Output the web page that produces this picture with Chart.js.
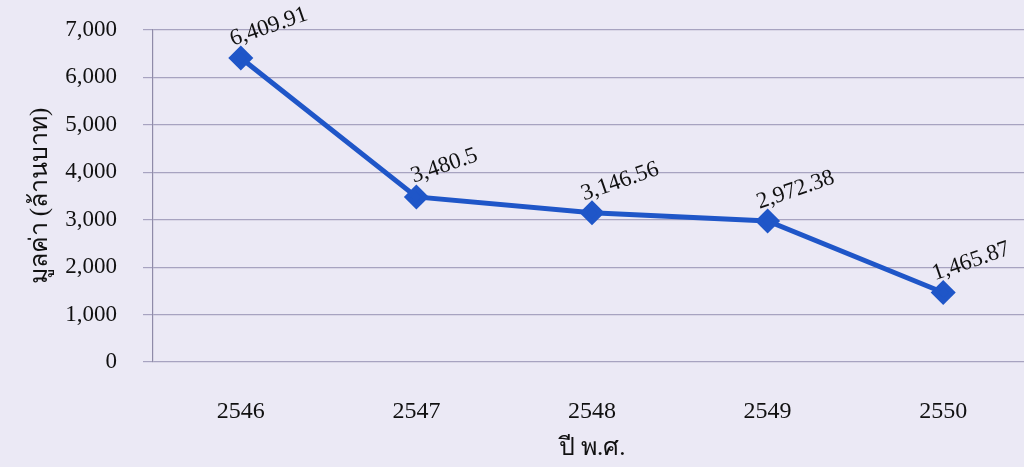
<!DOCTYPE html>
<html>
<head>
<meta charset="utf-8">
<script src="https://cdn.jsdelivr.net/npm/chart.js@4"></script>
<style>
  html, body { margin: 0; padding: 0; background: #ebe9f5; overflow: hidden; }
  #wrap { position: relative; width: 1045px; height: 467px; }
</style>
</head>
<body>
<div id="wrap"><canvas id="myChart"></canvas></div>
<script>
const years = ["2546", "2547", "2548", "2549", "2550"];
const values = [6409.91, 3480.5, 3146.56, 2972.38, 1465.87];
const yTicks = [0, 1000, 2000, 3000, 4000, 5000, 6000, 7000];

const serif = "'Liberation Serif', 'Times New Roman', serif";
const fmt = (v) => v.toLocaleString("en-US");

// etiquetas dos valores, levemente inclinadas como no original
const valueLabels = {
  id: "valueLabels",
  afterDatasetsDraw(chart) {
    const { ctx } = chart;
    const meta = chart.getDatasetMeta(0);
    ctx.save();
    ctx.font = "23px " + serif;
    ctx.fillStyle = "#111";
    ctx.textAlign = "center";
    ctx.textBaseline = "middle";
    meta.data.forEach((pt, i) => {
      ctx.save();
      ctx.translate(pt.x + 28, pt.y - 31);
      ctx.rotate(-19 * Math.PI / 180);
      ctx.fillText(fmt(values[i]), 0, 0);
      ctx.restore();
    });
    ctx.restore();
  },
};

const ctx = document.getElementById("myChart").getContext("2d");
new Chart(ctx, {
  type: "line",
  data: {
    labels: years,
    datasets: [
      {
        data: values,
        borderColor: "#1f56c8",
        backgroundColor: "#1f56c8",
        borderWidth: 5,
        pointStyle: "rectRot",
        pointRadius: 9,
        pointHoverRadius: 9,
        tension: 0,
      },
    ],
  },
  options: {
    responsive: true,
    maintainAspectRatio: false,
    animation: false,
    layout: { padding: { top: 30, left: 0, right: 0, bottom: 0 } },
    plugins: { legend: { display: false }, tooltip: { enabled: false } },
    scales: {
      x: {
        offset: true,
        grid: { display: false, drawTicks: false },
        border: { display: false },
        ticks: { color: "#111", font: { family: serif, size: 24 }, padding: 35 },
        title: {
          display: true,
          text: "ปี พ.ศ.",
          color: "#111",
          font: { family: serif, size: 25 },
          padding: { top: 0, bottom: 4 },
        },
        afterFit: (scale) => {
          scale.height = 105;
          scale.paddingLeft = 0;
          scale.paddingRight = 0;
        },
      },
      y: {
        min: 0,
        max: 7000,
        afterBuildTicks: (scale) => { scale.ticks = yTicks.map((v) => ({ value: v })); },
        grid: { color: "#a7a3c0", lineWidth: 1.2, tickLength: 10 },
        border: { display: true, color: "#8f8ba8", width: 1.2 },
        ticks: {
          color: "#111",
          font: { family: serif, size: 23 },
          padding: 26,
          callback: (v) => fmt(v),
        },
        title: {
          display: true,
          text: "มูลค่า (ล้านบาท)",
          color: "#111",
          font: { family: serif, size: 25 },
          padding: { top: 25, bottom: 0 },
        },
        afterFit: (scale) => {
          scale.width = 153;
          scale.paddingTop = 0;
          scale.paddingBottom = 0;
        },
      },
    },
  },
  plugins: [valueLabels],
});
</script>
</body>
</html>
